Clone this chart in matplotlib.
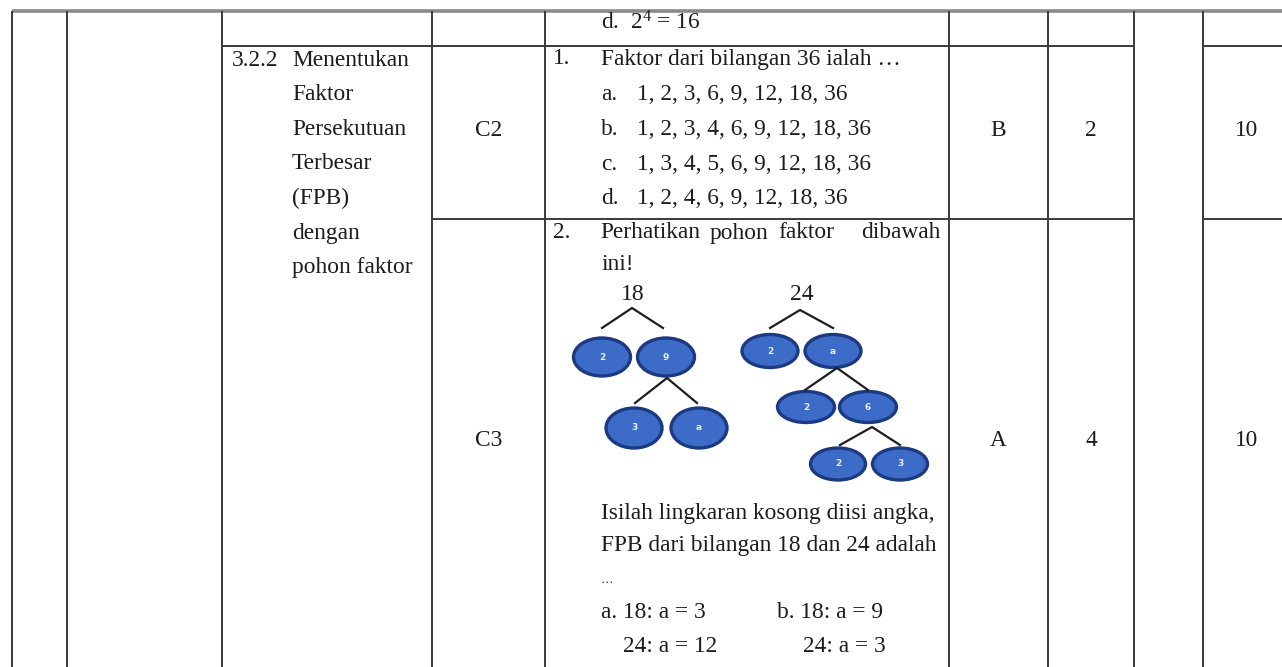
import matplotlib
matplotlib.use("Agg")
from matplotlib import pyplot as plt
from matplotlib.patches import Ellipse

plt.rcParams['font.family'] = ['Liberation Serif', 'DejaVu Serif']
plt.rcParams['mathtext.fontset'] = 'custom'
plt.rcParams['mathtext.rm'] = 'Liberation Serif'

# table content
indikator_no = "3.2.2"
indikator = ["Menentukan", "Faktor", "Persekutuan", "Terbesar", "(FPB)", "dengan", "pohon faktor"]
level = ["C2", "C3"]
kunci = ["B", "A"]
skor = ["2", "4"]
bobot = ["10", "10"]

soal_atas = r"d.  $\mathregular{2^4}$ = 16"
soal1 = "Faktor dari bilangan 36 ialah …"
pilihan1_huruf = ["a.", "b.", "c.", "d."]
pilihan1 = ["1, 2, 3, 6, 9, 12, 18, 36",
            "1, 2, 3, 4, 6, 9, 12, 18, 36",
            "1, 3, 4, 5, 6, 9, 12, 18, 36",
            "1, 2, 4, 6, 9, 12, 18, 36"]
soal2_kata = ["Perhatikan", "pohon", "faktor", "dibawah"]
soal2_lanjut = "ini!"
soal2_bawah = ["Isilah lingkaran kosong diisi angka,",
               "FPB dari bilangan 18 dan 24 adalah"]
pilihan2 = [["a. 18: a = 3", "b. 18: a = 9"],
            ["24: a = 12", "24: a = 3"]]

# factor trees: root label and the two node labels on each level
pohon18_akar = "18"
pohon18_node = [["2", "9"], ["3", "a"]]
pohon24_akar = "24"
pohon24_node = [["2", "a"], ["2", "6"], ["2", "3"]]

# layout (pixel units)
W, H = 1282, 667
col_x = [12, 67, 222, 432, 545, 949, 1048, 1134, 1203]
row_y = [11, 46, 219]
line_h = 34.6
fs = 16.8
tc = '#1c1c1c'
lc = '#3a3a3a'

fig = plt.figure(figsize=(W / 100, H / 100), dpi=100)
ax = fig.add_axes([0, 0, 1, 1])
ax.set_xlim(0, W)
ax.set_ylim(H, 0)
ax.axis('off')

# grid lines
ax.hlines(row_y[0], col_x[0], W, color='#8a8a8a', lw=2.6)
for x in col_x:
    ax.vlines(x, row_y[0], H, color=lc, lw=1.4)
for y in row_y[1:]:
    x0 = col_x[2] if y == row_y[1] else col_x[3]
    ax.hlines(y, x0, col_x[7], color=lc, lw=1.4)
    ax.hlines(y, col_x[8], W, color=lc, lw=1.4)

def teks(x, y, s, ha='left', size=fs):
    ax.text(x, y, s, ha=ha, va='center', fontsize=size, color=tc)

# indikator column
teks(232, 60, indikator_no)
for i, s in enumerate(indikator):
    teks(292, 60 + i * line_h, s)

# level / key / score / weight
rows_mid = [130, 440]
for i in range(2):
    teks((col_x[3] + col_x[4]) / 2, rows_mid[i], level[i], ha='center')
    teks((col_x[5] + col_x[6]) / 2, rows_mid[i], kunci[i], ha='center')
    teks((col_x[6] + col_x[7]) / 2, rows_mid[i], skor[i], ha='center')
    teks(1247, rows_mid[i], bobot[i], ha='center')

# question column
qx, qn = 601, 553
teks(qx, 23, soal_atas)
teks(qn, 59, "1.")
teks(qx, 59, soal1)
for i, (h, p) in enumerate(zip(pilihan1_huruf, pilihan1)):
    teks(qx, 95 + i * line_h, h)
    teks(637, 95 + i * line_h, p)

teks(qn, 233, "2.")
for i, w in enumerate(soal2_kata):
    if i == len(soal2_kata) - 1:
        teks(940, 233, w, ha='right')
    else:
        teks([600, 710, 778][i], 233, w)
teks(qx, 264, soal2_lanjut)

for i, s in enumerate(soal2_bawah):
    teks(qx, 513 + i * 33, s)
teks(qx, 580, "…", size=9)
for r, pair in enumerate(pilihan2):
    xs = [qx, 777] if r == 0 else [623, 803]
    for x, s in zip(xs, pair):
        teks(x, 612 + r * 35, s)

# factor trees
def gambar_pohon(akar, akar_xy, nodes, cabang, elips):
    teks(akar_xy[0], akar_xy[1], akar, ha='center', size=17)
    for (a, b), (px, ytop, ybot, lx, rx), (cx1, cx2, cy, ew, eh) in zip(nodes, cabang, elips):
        ax.plot([lx, px, rx], [ybot, ytop, ybot], color='#1e1e1e', lw=1.6)
        for cx, lab in [(cx1, a), (cx2, b)]:
            ax.add_patch(Ellipse((cx, cy), ew, eh, facecolor='#3d6cc8',
                                 edgecolor='#1c3a82', lw=2.4))
            ax.text(cx, cy, lab, ha='center', va='center', fontsize=6.5,
                    color='#e8eefc', family='DejaVu Sans', weight='bold')

gambar_pohon(pohon18_akar, (633, 295), pohon18_node,
             [(632, 308, 328, 602, 663), (667, 378, 403, 635, 697)],
             [(602, 666, 357, 57, 38), (634, 699, 428, 56, 40)])
gambar_pohon(pohon24_akar, (802, 295), pohon24_node,
             [(800, 310, 328, 770, 833), (837, 368, 390, 805, 868), (872, 427, 445, 840, 900)],
             [(770, 833, 351, 56, 33), (806, 868, 407, 57, 31), (838, 900, 464, 55, 32)])

fig.savefig("out.png", dpi=100, facecolor='white')
